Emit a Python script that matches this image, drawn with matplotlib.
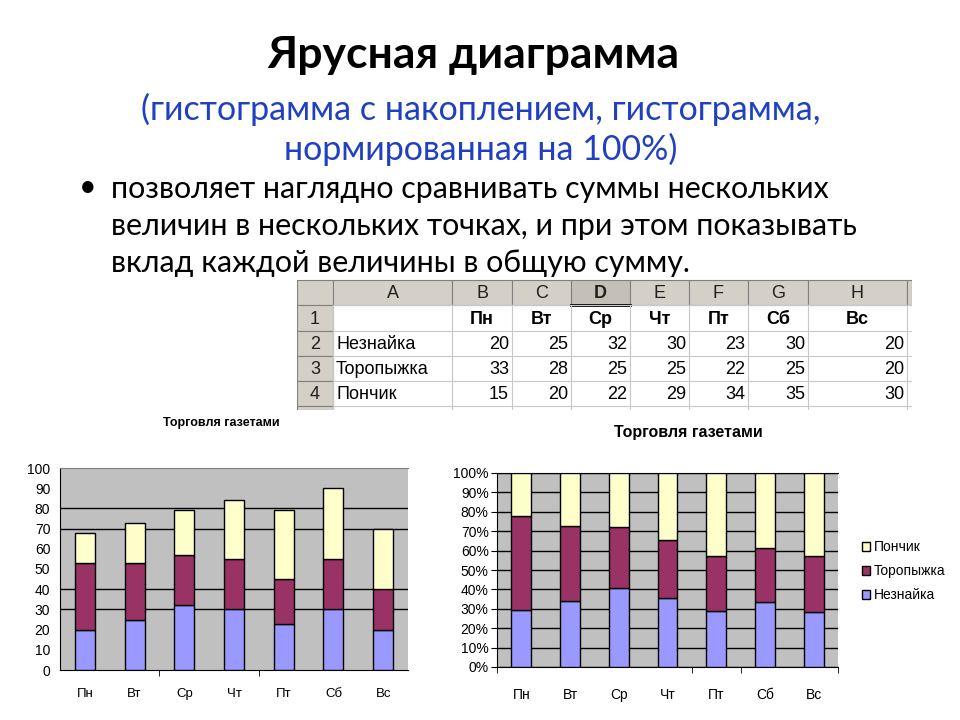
import numpy as np
import matplotlib.pyplot as plt
from matplotlib.patches import Rectangle

# --- data ---
days = ['Пн', 'Вт', 'Ср', 'Чт', 'Пт', 'Сб', 'Вс']
names = ['Незнайка', 'Торопыжка', 'Пончик']
neznayka = [20, 25, 32, 30, 23, 30, 20]
toropyzhka = [33, 28, 25, 25, 22, 25, 20]
ponchik = [15, 20, 22, 29, 34, 35, 30]
col_letters = ['A', 'B', 'C', 'D', 'E', 'F', 'G', 'H']
row_numbers = ['1', '2', '3', '4']
chart_title = 'Торговля газетами'

title = 'Ярусная диаграмма'
subtitle = ['(гистограмма с накоплением, гистограмма,', 'нормированная на 100%)']
body = ['позволяет наглядно сравнивать суммы нескольких',
        'величин в нескольких точках, и при этом показывать',
        'вклад каждой величины в общую сумму.']

# --- style ---
COLORS = ['#9999FF', '#993366', '#FFFFCC']
PLOT_BG = '#C0C0C0'
SLIDE_FONT = ['Lato', 'DejaVu Sans']
CHART_FONT = ['Liberation Sans', 'DejaVu Sans']
W, H = 960, 720


def fx(px):
    return px / W


def fy(py):
    return 1 - py / H


fig = plt.figure(figsize=(9.6, 7.2), dpi=100, facecolor='white')

# --- slide text ---
fig.text(fx(473), fy(55), title, ha='center', va='center', fontsize=32,
         weight='bold', family=SLIDE_FONT, color='black')
for i, line in enumerate(subtitle):
    fig.text(fx(481), fy(109 + 40 * i), line, ha='center', va='center',
             fontsize=24.5, family=SLIDE_FONT, color='#2040C0')
fig.text(fx(88), fy(187), '•', ha='center', va='center', fontsize=22,
         family=SLIDE_FONT)
for i, line in enumerate(body):
    fig.text(fx(111), fy(189 + 37 * i), line, ha='left', va='center',
             fontsize=21.9, family=SLIDE_FONT)

# --- spreadsheet ---
col_edges = [297, 333, 452, 512, 571, 630, 689, 748, 808, 907, 912]
row_edges = [280, 305, 331, 356, 381, 406]
ax_t = fig.add_axes([fx(297), fy(410), fx(912) - fx(297), fy(278) - fy(410)])
ax_t.set_xlim(297, 912)
ax_t.set_ylim(410, 278)
ax_t.axis('off')

HDR = '#D4D0C8'
GRID = '#C8C8C8'
TFS = 13
# header row with column letters
for c in range(len(col_edges) - 1):
    x0, x1 = col_edges[c], col_edges[c + 1]
    face = '#C4C0B8' if c == 4 else HDR
    ax_t.add_patch(Rectangle((x0, row_edges[0]), x1 - x0, row_edges[1] - row_edges[0],
                             facecolor=face, edgecolor='#808080', lw=0.8))
    if 1 <= c <= len(col_letters):
        ax_t.text((x0 + x1) / 2, (row_edges[0] + row_edges[1]) / 2 + 1, col_letters[c - 1],
                  ha='center', va='center', fontsize=TFS, family=CHART_FONT,
                  weight='bold' if c == 4 else 'normal', color='#202020')
ax_t.plot([col_edges[4], col_edges[5]], [row_edges[1], row_edges[1]], color='black', lw=2)
# row number column
for r in range(len(row_numbers)):
    y0, y1 = row_edges[r + 1], row_edges[r + 2]
    ax_t.add_patch(Rectangle((col_edges[0], y0), col_edges[1] - col_edges[0], y1 - y0,
                             facecolor=HDR, edgecolor='#808080', lw=0.8))
    ax_t.text((col_edges[0] + col_edges[1]) / 2, (y0 + y1) / 2 + 1, row_numbers[r],
              ha='center', va='center', fontsize=TFS, family=CHART_FONT, color='#202020')
ax_t.add_patch(Rectangle((col_edges[0], row_edges[-1]), col_edges[1] - col_edges[0], 4,
                         facecolor=HDR, edgecolor='#808080', lw=0.8))
# cell grid
for x in col_edges[1:]:
    ax_t.plot([x, x], [row_edges[1], 410], color=GRID, lw=0.8)
for y in row_edges[1:]:
    ax_t.plot([col_edges[1], col_edges[-1]], [y, y], color=GRID, lw=0.8)
# row 1: day headers
for j, d in enumerate(days):
    x0, x1 = col_edges[j + 2], col_edges[j + 3]
    ax_t.text((x0 + x1) / 2, (row_edges[1] + row_edges[2]) / 2 + 1, d, ha='center',
              va='center', fontsize=TFS, weight='bold', family=CHART_FONT)
# rows 2-4: names and values
series = [neznayka, toropyzhka, ponchik]
for i, (nm, vals) in enumerate(zip(names, series)):
    y0, y1 = row_edges[i + 2], row_edges[i + 3]
    yc = (y0 + y1) / 2 + 1
    ax_t.text(col_edges[1] + 3, yc, nm, ha='left', va='center', fontsize=TFS,
              family=CHART_FONT)
    for j, v in enumerate(vals):
        ax_t.text(col_edges[j + 3] - 3, yc, str(v), ha='right', va='center',
                  fontsize=TFS, family=CHART_FONT)

x = np.arange(len(days))
bw = 0.4

# --- stacked chart ---
fig.text(fx(221), fy(423), chart_title, ha='center', va='center', fontsize=9,
         weight='bold', family=CHART_FONT)
ax1 = fig.add_axes([fx(60), fy(670), fx(408) - fx(60), fy(468) - fy(670)])
ax1.set_facecolor(PLOT_BG)
bottom = np.zeros(len(days))
for vals, col in zip(series, COLORS):
    ax1.bar(x, vals, bw, bottom=bottom, color=col, edgecolor='black', lw=1, zorder=3)
    bottom += np.array(vals)
ax1.set_xlim(-0.5, len(days) - 0.5)
ax1.set_ylim(0, 100)
ax1.set_yticks(range(0, 101, 10))
for g in [30, 40, 70, 80]:
    ax1.axhline(g, color='black', lw=1, zorder=1)
ax1.set_xticks(x)
ax1.set_xticklabels(days, family=CHART_FONT, fontsize=9.5)
ax1.tick_params(axis='x', length=0, pad=13)
ax1.set_xticks([1.5, 3.5], minor=True)
ax1.tick_params(axis='x', which='minor', length=4, color='black')
ax1.tick_params(axis='y', length=0, pad=7, labelsize=10)
for lab in ax1.get_yticklabels():
    lab.set_family(CHART_FONT)
ax1.spines['right'].set_visible(False)
ax1.spines['top'].set_color('#808080')
ax1.spines['left'].set_color('black')
ax1.spines['bottom'].set_color('black')

# --- 100% stacked chart ---
fig.text(fx(688), fy(432), chart_title, ha='center', va='center', fontsize=11.5,
         weight='bold', family=CHART_FONT)
ax2 = fig.add_axes([fx(497), fy(667), fx(838) - fx(497), fy(473) - fy(667)])
ax2.set_facecolor(PLOT_BG)
totals = np.sum(series, axis=0)
bottom = np.zeros(len(days))
handles = []
for vals, col, nm in zip(series, COLORS, names):
    share = np.array(vals) / totals * 100
    b = ax2.bar(x, share, bw * 1.02, bottom=bottom, color=col, edgecolor='black',
                lw=1, zorder=3, label=nm)
    handles.append(b)
    bottom += share
ax2.set_xlim(-0.5, len(days) - 0.5)
ax2.set_ylim(0, 100)
ax2.set_yticks(range(0, 101, 10))
ax2.set_yticklabels([f'{t}%' for t in range(0, 101, 10)], family=CHART_FONT, fontsize=10)
ax2.grid(axis='y', color='black', lw=1, zorder=1)
ax2.set_xticks(x)
ax2.set_xticklabels(days, family=CHART_FONT, fontsize=10)
ax2.tick_params(axis='x', length=0, pad=15)
ax2.set_xticks([-0.5, 3.5, 4.5, 6.5], minor=True)
ax2.tick_params(axis='x', which='minor', length=4, color='black')
ax2.tick_params(axis='y', length=4, pad=2)
ax2.spines['right'].set_visible(False)
for s in ['top', 'left', 'bottom']:
    ax2.spines[s].set_color('black')

leg = fig.legend(handles[::-1], names[::-1], loc='center left',
                 bbox_to_anchor=(fx(849), fy(571)), frameon=False,
                 prop={'family': CHART_FONT, 'size': 10},
                 handlelength=0.6, handleheight=0.6, handletextpad=0.3,
                 labelspacing=0.72)

fig.savefig('out.png', dpi=100)
